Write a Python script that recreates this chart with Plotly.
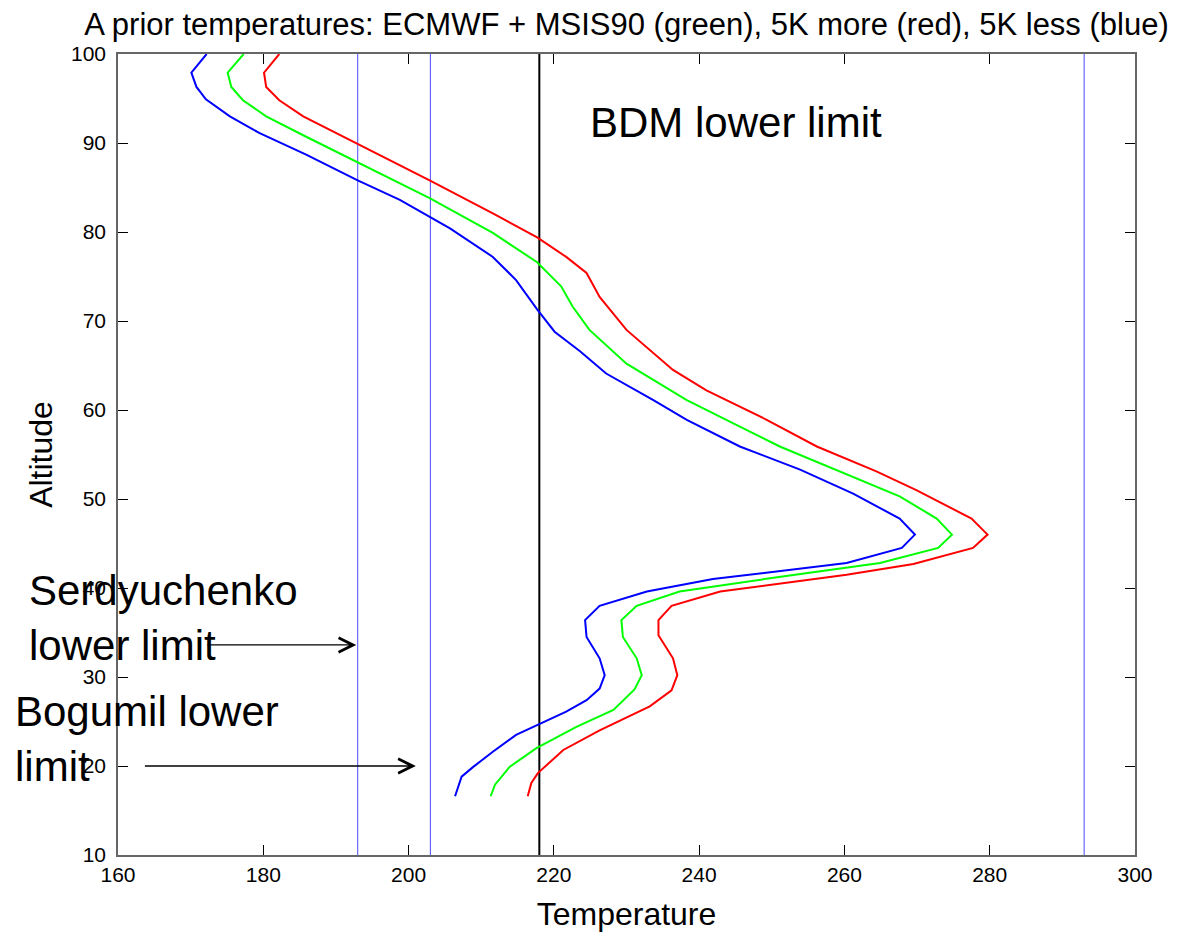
import plotly.graph_objects as go

# ---- data ----
green_alt = [16.6, 17.9, 19.9, 22.0, 24.4, 26.3, 28.6, 30.2, 32.1, 34.5, 36.4, 38.0, 39.6,
             41.0, 42.8, 44.5, 46.0, 47.8, 50.3, 53.1, 55.9, 58.5, 61.1, 65.2, 69.0, 71.6,
             73.9, 76.6, 79.9, 83.8, 87.8, 90.7, 93.0, 94.8, 96.3, 97.9, 100.0]
green_temp = [211.3, 211.9, 213.9, 217.6, 223.1, 228.2, 231.1, 232.1, 231.4, 229.5, 229.3, 231.4, 237.3,
              249.0, 264.9, 272.9, 274.8, 272.7, 267.6, 259.4, 251.1, 244.7, 238.3, 230.0, 224.9, 222.6,
              221.0, 217.7, 211.6, 202.9, 193.0, 185.9, 180.4, 177.2, 175.6, 175.1, 177.3]

red_alt = [16.6, 18.1, 19.2, 21.8, 24.0, 26.7, 28.5, 30.2, 32.1, 34.7, 36.4, 38.0, 39.6,
           41.5, 42.7, 44.5, 46.0, 47.8, 51.0, 53.1, 55.9, 58.9, 62.2, 64.5, 69.0, 72.7,
           75.4, 77.2, 79.4, 82.1, 85.8, 89.9, 93.0, 94.8, 96.3, 97.9, 100.0]
red_temp = [216.4, 216.9, 217.8, 221.3, 226.3, 233.2, 236.2, 237.0, 236.4, 234.4, 234.4, 236.2, 242.9,
            260.3, 269.5, 277.7, 279.7, 277.5, 269.9, 264.4, 256.2, 249.3, 241.0, 236.4, 230.0, 226.3,
            224.5, 221.7, 217.7, 211.6, 202.9, 193.0, 185.5, 182.2, 180.4, 180.1, 182.2]

blue_alt = [16.6, 18.8, 19.9, 21.6, 23.5, 24.6, 26.1, 27.4, 28.7, 30.2, 32.1, 34.5, 36.4, 38.0, 39.6,
            41.0, 42.8, 44.5, 46.0, 47.8, 50.6, 53.3, 55.9, 58.9, 61.1, 64.1, 66.6, 68.8, 71.3,
            74.6, 77.2, 80.4, 83.6, 85.8, 88.7, 91.1, 93.0, 94.9, 96.3, 97.9, 100.0]
blue_temp = [206.4, 207.3, 208.9, 211.6, 214.8, 217.7, 221.7, 224.5, 226.3, 227.0, 226.3, 224.5, 224.3, 226.3, 232.8,
             241.9, 260.3, 267.9, 269.7, 267.6, 261.2, 253.9, 245.6, 238.3, 233.7, 227.2, 223.6, 220.1, 217.7,
             214.8, 211.6, 205.7, 198.8, 193.0, 185.9, 179.5, 175.4, 172.1, 170.8, 170.1, 172.2]

limit_blue = [193, 203, 293]      # vertical blue limit lines (K)
limit_black = [218]               # BDM lower limit (K)
alt_range = [10, 100]
temp_range = [160, 300]
x_ticks = [160, 180, 200, 220, 240, 260, 280, 300]
y_ticks = [10, 20, 30, 40, 50, 60, 70, 80, 90, 100]

FONT = "Liberation Sans, Arial, Helvetica, sans-serif"

fig = go.Figure()

for xv in limit_blue:
    fig.add_trace(go.Scatter(x=[xv, xv], y=alt_range, mode="lines",
                             line=dict(color="#4a4aff", width=1), hoverinfo="skip"))
for xv in limit_black:
    fig.add_trace(go.Scatter(x=[xv, xv], y=alt_range, mode="lines",
                             line=dict(color="black", width=2), hoverinfo="skip"))

fig.add_trace(go.Scatter(x=blue_temp, y=blue_alt, mode="lines", line=dict(color="#0000ff", width=2)))
fig.add_trace(go.Scatter(x=green_temp, y=green_alt, mode="lines", line=dict(color="#00ff00", width=2)))
fig.add_trace(go.Scatter(x=red_temp, y=red_alt, mode="lines", line=dict(color="#ff0000", width=2)))

big = dict(family=FONT, size=42, color="black")
annotations = [
    dict(text="BDM lower limit", x=224.7, y=92.3, xref="x", yref="y",
         xanchor="left", yanchor="middle", showarrow=False, font=big),
    dict(text="Serdyuchenko<br>lower limit", x=-0.0893, y=0.2956, xref="paper", yref="paper",
         xanchor="left", yanchor="middle", align="left", showarrow=False, font=big),
    dict(text="Bogumil lower<br>limit", x=-0.1036, y=0.1444, xref="paper", yref="paper",
         xanchor="left", yanchor="middle", align="left", showarrow=False, font=big),
    dict(text="", x=192.8, y=33.6, ax=172.1, ay=33.6, xref="x", yref="y", axref="x", ayref="y",
         showarrow=True, arrowhead=5, arrowsize=2.2, arrowwidth=1.3, arrowcolor="black", standoff=0),
    dict(text="", x=201.0, y=20.0, ax=163.5, ay=20.0, xref="x", yref="y", axref="x", ayref="y",
         showarrow=True, arrowhead=5, arrowsize=2.2, arrowwidth=1.3, arrowcolor="black", standoff=0),
]

axis_common = dict(showgrid=False, zeroline=False, showline=True, linecolor="#666666", linewidth=1.5,
                   mirror="ticks", ticks="inside", ticklen=10, tickcolor="black", tickwidth=1,
                   automargin=False,
                   tickfont=dict(family=FONT, size=21, color="black"))

fig.update_layout(
    width=1174, height=925,
    margin=dict(l=110, r=47, t=46, b=78),
    paper_bgcolor="white", plot_bgcolor="white",
    showlegend=False,
    title=dict(text="A prior temperatures: ECMWF + MSIS90 (green), 5K more (red), 5K less (blue)",
               x=0.5, xref="paper", xanchor="center", y=0.9825, yref="container", yanchor="middle",
               font=dict(family=FONT, size=31, color="black")),
    xaxis=dict(range=temp_range, tickvals=x_ticks,
               title=dict(text="Temperature", font=dict(family=FONT, size=32, color="black"), standoff=18),
               **axis_common),
    yaxis=dict(range=alt_range, tickvals=y_ticks, ticklabelstandoff=6,
               title=dict(text="Altitude", font=dict(family=FONT, size=32, color="black"), standoff=9),
               **axis_common),
    annotations=annotations,
)

fig.write_html("out.html")
